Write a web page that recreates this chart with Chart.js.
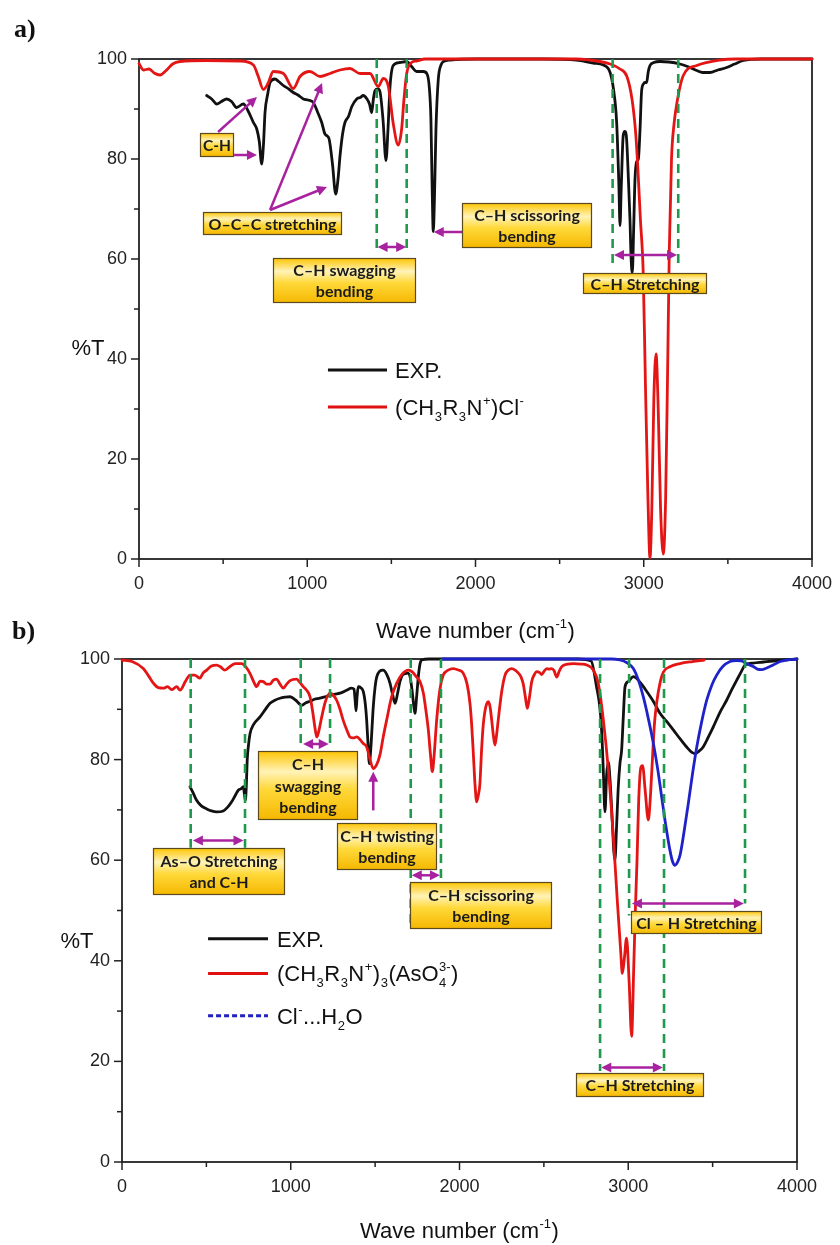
<!DOCTYPE html>
<html><head><meta charset="utf-8">
<script src="https://cdn.jsdelivr.net/npm/chart.js@4.4.1/dist/chart.umd.min.js"></script>
<style>
html,body{margin:0;padding:0;background:#fff;}
#wrap{position:relative;width:840px;height:1245px;overflow:hidden;background:#fff;}
canvas{position:absolute;left:0;}
#ca{top:0;} #cb{top:600px;}
</style></head><body>
<div id="wrap"><canvas id="ca" width="840" height="650"></canvas><canvas id="cb" width="840" height="645"></canvas></div>
<script>
// ---------- DATA (wavenumber cm-1, %T) ----------
const xTicks = [0, 1000, 2000, 3000, 4000];
const yTicks = [0, 20, 40, 60, 80, 100];

// Panel a: EXP.
const aExpWn = [402,432,462,490,521,550,580,620,650,680,700,715,729,740,749,765,779,808,830,858,890,917,945,977,1005,1036,1060,1086,1105,1115,1130,1150,1169,1183,1195,1210,1224,1245,1265,1294,1315,1333,1355,1370,1383,1393,1403,1420,1432,1450,1468,1480,1492,1511,1550,1591,1620,1650,1690,1712,1725,1735,1742,1749,1756,1765,1779,1795,1809,1850,2000,2400,2600,2700,2760,2800,2820,2839,2852,2859,2866,2878,2888,2898,2910,2918,2925,2932,2940,2948,2958,2968,2978,2987,2998,3008,3017,3027,3037,3060,3097,3150,3215,3260,3315,3350,3394,3440,3493,3540,3592,3700,4000];
const aExpT  = [92.7,92.0,91.0,91.5,92.0,91.5,90.3,91.0,89.5,87.3,86.0,83.5,79.0,83.0,89.3,93.0,95.3,96.0,95.5,94.7,94.0,93.3,92.8,92.0,91.8,91.3,89.5,87.3,85.0,84.7,84.0,79.0,73.0,76.0,80.7,85.0,87.3,88.5,90.5,92.0,92.3,92.7,92.0,91.0,89.3,92.0,93.7,94.0,93.5,88.0,79.7,86.0,94.5,98.7,99.3,99.5,98.5,97.5,97.5,97.0,94.5,88.0,75.0,65.5,72.0,86.0,96.0,98.8,99.5,99.8,100,100,99.8,99.2,98.8,97.3,94.0,87.3,75.0,66.7,74.0,84.7,85.5,84.0,75.0,68.0,60.0,57.3,66.0,76.0,79.5,80.0,86.0,93.5,95.0,95.3,95.3,97.5,98.7,99.3,99.5,99.4,99.0,98.5,97.7,97.3,97.3,97.8,98.3,99.0,99.7,100,100];

// Panel a: (CH3R3N+)Cl-
const aRefWn = [0,26,60,90,125,164,200,244,400,600,680,709,739,768,798,858,917,957,1016,1076,1135,1195,1254,1313,1373,1422,1452,1482,1511,1541,1561,1575,1591,1620,1650,1700,2600,2740,2800,2859,2900,2930,2950,2962,2980,2997,3010,3025,3037,3048,3060,3073,3086,3100,3116,3130,3142,3152,3165,3180,3196,3235,3315,3453,3550,4000];
const aRefT  = [99.1,97.8,98.0,97.2,96.8,97.8,99.0,99.5,99.7,99.6,98.8,96.5,93.9,95.2,97.5,97.1,94.1,96.5,97.5,96.5,97.1,97.8,98.1,97.1,97.1,94.5,96.1,94.5,87.1,82.8,86.0,92.0,97.1,99.3,99.6,100,100,99.5,99.0,98.0,96.5,92.0,86.0,80.0,68.0,57.0,35.0,12.0,0.2,10.0,32.0,41.0,30.0,10.0,1.0,12.0,38.0,62.0,80.0,87.0,91.0,96.7,98.7,99.8,100,100];

// Panel b: EXP.
const bExpWn = [403,420,442,470,502,530,561,600,625,650,670,689,705,719,726,731,737,742,750,759,780,818,850,877,906,936,966,996,1030,1065,1090,1114,1140,1173,1205,1233,1262,1292,1331,1360,1375,1381,1387,1393,1400,1415,1430,1442,1450,1458,1466,1474,1482,1489,1500,1509,1528,1548,1568,1588,1603,1618,1632,1647,1662,1677,1692,1707,1718,1728,1736,1746,1756,1766,1776,1820,2700,2780,2812,2833,2845,2852,2862,2872,2882,2892,2905,2914,2921,2930,2940,2951,2961,2970,2981,3000,3030,3060,3100,3150,3188,3230,3267,3310,3346,3375,3396,3420,3444,3475,3504,3545,3583,3615,3643,3670,3692,3740,3800,3860,4000];
const bExpT  = [74.6,73.5,71.9,70.8,70.2,69.8,69.6,69.8,70.5,71.6,72.8,73.9,74.2,74.6,73.0,71.9,75.0,79.9,83.0,85.2,87.0,88.5,90.0,91.2,91.8,92.2,92.4,92.5,91.8,90.8,91.3,91.6,92.0,92.2,92.5,92.8,93.0,93.2,93.8,94.2,94.0,92.0,89.7,92.5,94.5,94.3,93.5,91.0,87.8,83.0,79.2,82.0,86.5,90.5,94.5,96.4,97.6,97.8,97.0,95.2,93.0,91.2,93.0,95.5,96.8,97.1,97.2,96.5,94.0,91.0,89.2,92.5,96.5,99.0,99.8,100,100,99.6,94.5,90.0,84.0,78.0,69.6,77.0,79.5,76.0,68.0,62.0,60.0,66.0,74.0,79.3,82.0,88.0,94.5,95.5,96.5,95.8,94.0,91.5,89.2,87.5,85.9,84.0,82.5,81.5,81.2,81.7,82.5,84.5,86.5,89.5,91.8,94.0,95.8,97.5,98.8,99.2,99.4,99.6,100];

// Panel b: (CH3R3N+)3(AsO4 3-)
const bAsWn = [0,60,126,160,186,215,245,270,294,324,344,375,403,430,462,480,502,530,561,585,610,640,670,709,735,759,780,798,818,837,857,877,897,917,936,956,976,996,1035,1055,1074,1094,1114,1130,1145,1154,1165,1183,1205,1233,1252,1272,1292,1311,1331,1351,1371,1391,1410,1430,1450,1470,1489,1509,1529,1548,1568,1598,1628,1660,1697,1722,1746,1766,1786,1800,1815,1828,1839,1850,1865,1884,1904,1933,1963,1993,2022,2045,2062,2072,2082,2092,2102,2112,2121,2131,2141,2156,2171,2181,2191,2200,2210,2220,2230,2250,2270,2290,2309,2330,2349,2365,2378,2390,2402,2415,2428,2445,2457,2475,2487,2500,2517,2530,2546,2560,2576,2590,2606,2640,2675,2720,2754,2793,2822,2852,2882,2911,2935,2955,2965,2977,2990,3005,3020,3032,3042,3052,3062,3075,3085,3100,3119,3130,3140,3155,3168,3190,3208,3250,3307,3380,3450];
const bAsT  = [99.8,99.5,98.1,96.5,95.2,94.3,94.2,94.5,93.9,94.5,93.8,95.5,96.8,96.8,96.2,97.2,97.8,98.6,98.8,98.4,97.8,98.5,99.1,99.1,98.4,97.1,95.5,94.5,95.6,95.5,95.0,95.0,95.8,96.0,95.0,94.2,95.0,95.7,96.0,95.3,94.5,93.8,92.5,89.5,86.0,84.5,85.5,88.4,91.5,93.2,92.8,91.8,90.0,87.8,86.0,84.5,84.3,84.5,84.0,83.2,82.5,80.0,78.2,79.0,81.0,84.5,87.8,92.5,95.2,97.0,97.8,97.4,96.4,95.5,93.2,90.0,86.0,81.0,77.6,81.0,88.0,94.0,96.8,97.8,98.1,97.8,97.2,95.0,91.2,87.0,81.2,75.0,71.6,73.0,75.2,82.0,87.0,90.5,91.5,90.5,87.8,85.0,82.9,85.0,88.0,93.5,96.8,97.8,98.1,97.8,97.2,96.4,95.0,92.5,90.2,92.5,95.5,97.0,97.5,97.3,96.9,97.5,98.1,98.0,98.1,97.7,96.4,97.5,98.5,99.0,99.1,99.0,98.8,97.8,95.2,88.0,78.0,65.0,52.0,42.0,37.5,40.5,44.5,36.0,25.0,38.0,50.0,60.0,72.0,78.5,78.8,74.0,68.0,72.0,78.0,87.0,91.2,95.5,97.4,98.5,99.1,99.5,99.8];

// Panel b: Cl-...H2O
const bClWn = [1900,2900,2951,2990,3030,3060,3089,3120,3149,3175,3198,3222,3247,3262,3277,3292,3307,3330,3356,3380,3406,3435,3465,3495,3524,3560,3603,3640,3672,3705,3741,3765,3790,3820,3859,3900,3939,4000];
const bClT  = [100,100,99.8,99.3,98.1,95.8,92.5,88.0,83.2,78.0,72.6,67.0,62.0,59.8,59.0,59.6,61.0,65.5,71.3,77.0,82.5,87.5,91.8,94.8,96.8,98.5,99.5,99.7,99.6,99.0,98.5,98.0,97.9,98.2,98.8,99.5,99.8,100];

// ---------- STYLE / LAYOUT ----------
const FONT = '"Liberation Sans", Arial, sans-serif';
const BOXFONT = 'Lato, "Open Sans", sans-serif';
const PURPLE = '#a8229f';
const GREEN = '#1f9a4c';

function zip(xs, ys){ return xs.map((x,i)=>({x:x, y:ys[i]})); }

const annA = {
  vlines: [[1413,100,61.5],[1591,100,61.5],[2815,100,58.5],[3205,100,58.5]],
  arrows: [
    {from:[470,85.4], to:[701,92.4]},
    {from:[565,80.8], to:[701,80.8]},
    {from:[779,69.8], to:[1088,95.2]},
    {from:[779,69.8], to:[1117,74.4]},
    {from:[1920,65.4], to:[1752,65.4]},
    {from:[1418,62.4], to:[1588,62.4], both:true},
    {from:[2823,60.8], to:[3198,60.8], both:true}
  ],
  boxes: [
    {x1:363, x2:565, t1:85.2, t2:80.4, lines:['C-H']},
    {x1:380, x2:1207, t1:69.4, t2:64.8, lines:['O\u2013C\u2013C stretching']},
    {x1:796, x2:1646, t1:60.2, t2:51.2, lines:['C\u2013H swagging','bending']},
    {x1:1920, x2:2692, t1:71.2, t2:62.2, lines:['C\u2013H scissoring','bending']},
    {x1:2639, x2:3376, t1:57.2, t2:53.0, lines:['C\u2013H Stretching']}
  ],
  legend: {x1:1123, x2:1474, tx:1522, rows:[
    {t:37.8, color:'#111', dash:null, segs:[['EXP.','n']]},
    {t:30.4, color:'#e01010', dash:null, segs:[['(CH','n'],['3','b'],['R','n'],['3','b'],['N','n'],['+','p'],[')Cl','n'],['-','p']]}
  ]},
  texts: {panel:'a)', panelX:14, panelY:30, yTitleX:88, yTitleY:349, xTitleY:630}
};

const annB = {
  vlines: [[407,100,62.5],[729,100,62.5],[1059,100,82.3],[1233,100,82.3],[1711,100,47.4],[1890,100,47.4],[2833,100,18.1],[3212,100,18.1],[3005,100,49],[3692,100,51.4]],
  arrows: [
    {from:[420,63.9], to:[720,63.9], both:true},
    {from:[1073,83.1], to:[1225,83.1], both:true},
    {from:[1489,69.9], to:[1489,77.6]},
    {from:[1717,57.0], to:[1884,57.0], both:true},
    {from:[3022,51.4], to:[3685,51.4], both:true},
    {from:[2840,18.8], to:[3205,18.8], both:true}
  ],
  boxes: [
    {x1:184, x2:966, t1:62.4, t2:53.0, lines:['As\u2013O Stretching','and C-H']},
    {x1:808, x2:1400, t1:81.7, t2:67.9, lines:['C\u2013H','swagging','bending']},
    {x1:1272, x2:1865, t1:67.3, t2:58.0, lines:['C\u2013H twisting','bending']},
    {x1:1707, x2:2546, t1:55.6, t2:46.4, lines:['C\u2013H scissoring','bending']},
    {x1:3016, x2:3794, t1:50.0, t2:45.4, lines:['Cl \u2013 H Stretching']},
    {x1:2689, x2:3449, t1:17.7, t2:13.0, lines:['C\u2013H Stretching']}
  ],
  legend: {x1:510, x2:865, tx:918, rows:[
    {t:44.4, color:'#111', dash:null, segs:[['EXP.','n']]},
    {t:37.5, color:'#e01010', dash:null, segs:[['(CH','n'],['3','b'],['R','n'],['3','b'],['N','n'],['+','p'],[')','n'],['3','b'],['(AsO','n'],['3-','s','4'],[')','n']]},
    {t:29.1, color:'#2020c0', dash:[5,3], segs:[['Cl','n'],['-','p'],['...H','n'],['2','b'],['O','n']]}
  ]},
  texts: {panel:'b)', panelX:12, panelY:32, yTitleX:77, yTitleY:342, xTitleY:630}
};

// ---------- DRAW HELPERS ----------
function richWidth(ctx, segs, size){
  let w = 0;
  segs.forEach(s=>{
    if (s[1]==='n'){ ctx.font = size+'px '+FONT; w += ctx.measureText(s[0]).width; }
    else if (s[1]==='s'){ ctx.font = Math.round(size*0.6)+'px '+FONT; w += Math.max(ctx.measureText(s[0]).width, ctx.measureText(s[2]).width)+1; }
    else { ctx.font = Math.round(size*0.6)+'px '+FONT; w += ctx.measureText(s[0]).width+1; }
  });
  return w;
}
function drawRich(ctx, segs, x, y, size, align, color){
  const w = richWidth(ctx, segs, size);
  let cx = align==='center' ? x - w/2 : (align==='right' ? x - w : x);
  const base = y + size*0.36;
  ctx.fillStyle = color || '#111';
  ctx.textAlign = 'left'; ctx.textBaseline = 'alphabetic';
  segs.forEach(s=>{
    if (s[1]==='n'){ ctx.font = size+'px '+FONT; ctx.fillText(s[0], cx, base); cx += ctx.measureText(s[0]).width; }
    else if (s[1]==='b'){ ctx.font = Math.round(size*0.6)+'px '+FONT; ctx.fillText(s[0], cx+0.5, base+size*0.28); cx += ctx.measureText(s[0]).width+1; }
    else if (s[1]==='p'){ ctx.font = Math.round(size*0.6)+'px '+FONT; ctx.fillText(s[0], cx+0.5, base-size*0.45); cx += ctx.measureText(s[0]).width+1; }
    else { ctx.font = Math.round(size*0.6)+'px '+FONT;
      ctx.fillText(s[0], cx+0.5, base-size*0.45); ctx.fillText(s[2], cx+0.5, base+size*0.28);
      cx += Math.max(ctx.measureText(s[0]).width, ctx.measureText(s[2]).width)+1; }
  });
}
function arrowHead(ctx, x1, y1, x2, y2){
  const a = Math.atan2(y2-y1, x2-x1), L = 10, W = 5;
  ctx.beginPath();
  ctx.moveTo(x2, y2);
  ctx.lineTo(x2 - L*Math.cos(a) + W*Math.sin(a), y2 - L*Math.sin(a) - W*Math.cos(a));
  ctx.lineTo(x2 - L*Math.cos(a) - W*Math.sin(a), y2 - L*Math.sin(a) + W*Math.cos(a));
  ctx.closePath(); ctx.fill();
}
function drawArrow(ctx, x1, y1, x2, y2, both){
  const a = Math.atan2(y2-y1, x2-x1);
  ctx.strokeStyle = PURPLE; ctx.fillStyle = PURPLE; ctx.lineWidth = 2.5;
  ctx.beginPath();
  ctx.moveTo(x1 + (both?8*Math.cos(a):0), y1 + (both?8*Math.sin(a):0));
  ctx.lineTo(x2 - 8*Math.cos(a), y2 - 8*Math.sin(a));
  ctx.stroke();
  arrowHead(ctx, x1, y1, x2, y2);
  if (both) arrowHead(ctx, x2, y2, x1, y1);
}
function drawBox(ctx, x1, y1, x2, y2, lines){
  const g = ctx.createLinearGradient(0, y1, 0, y2);
  g.addColorStop(0, '#ffc400'); g.addColorStop(0.3, '#fff3b8'); g.addColorStop(0.55, '#ffd93a'); g.addColorStop(1, '#f5b700');
  ctx.fillStyle = g; ctx.fillRect(x1, y1, x2-x1, y2-y1);
  ctx.strokeStyle = '#5b4a1e'; ctx.lineWidth = 1.2; ctx.setLineDash([]);
  ctx.strokeRect(x1+0.5, y1+0.5, x2-x1-1, y2-y1-1);
  const lh = 21.5;
  let size = 16;
  ctx.font = 'bold '+size+'px '+BOXFONT;
  let maxW = Math.max(...lines.map(l=>ctx.measureText(l).width));
  if (maxW > (x2-x1-6)) { size = Math.floor(size*(x2-x1-6)/maxW*10)/10; }
  ctx.font = 'bold '+size+'px '+BOXFONT;
  ctx.fillStyle = '#1b1b1b'; ctx.textAlign = 'center'; ctx.textBaseline = 'middle';
  const cy = (y1+y2)/2, cx = (x1+x2)/2;
  lines.forEach((l,i)=>{ ctx.fillText(l, cx, cy + (i-(lines.length-1)/2)*lh + 1); });
}

function makePlugin(ann){
  return {
    id: 'spectrumDecor',
    beforeDatasetsDraw(chart){
      const ctx = chart.ctx, ca = chart.chartArea;
      const xs = chart.scales.x, ys = chart.scales.y;
      ctx.save();
      ctx.strokeStyle = '#222'; ctx.lineWidth = 1.8;
      ctx.strokeRect(ca.left, ca.top, ca.right-ca.left, ca.bottom-ca.top);
      ctx.lineWidth = 1.5;
      for (let v = 0; v <= 4000; v += 500){
        const px = xs.getPixelForValue(v), len = (v % 1000 === 0) ? 8 : 5;
        ctx.beginPath(); ctx.moveTo(px, ca.bottom); ctx.lineTo(px, ca.bottom+len); ctx.stroke();
      }
      for (let v = 0; v <= 100; v += 10){
        const py = ys.getPixelForValue(v), len = (v % 20 === 0) ? 8 : 5;
        ctx.beginPath(); ctx.moveTo(ca.left, py); ctx.lineTo(ca.left-len, py); ctx.stroke();
      }
      ctx.restore();
    },
    afterDatasetsDraw(chart){
      const ctx = chart.ctx, ca = chart.chartArea;
      const xs = chart.scales.x, ys = chart.scales.y;
      const X = v => xs.getPixelForValue(v), Y = v => ys.getPixelForValue(v);
      ctx.save();
      ctx.strokeStyle = GREEN; ctx.lineWidth = 2.6; ctx.setLineDash([9,6]);
      ann.vlines.forEach(l=>{ ctx.beginPath(); ctx.moveTo(X(l[0]), Y(l[1])); ctx.lineTo(X(l[0]), Y(l[2])); ctx.stroke(); });
      ctx.setLineDash([]);
      ann.arrows.forEach(a=> drawArrow(ctx, X(a.from[0]), Y(a.from[1]), X(a.to[0]), Y(a.to[1]), a.both));
      ann.boxes.forEach(b=> drawBox(ctx, Math.round(X(b.x1)), Math.round(Y(b.t1)), Math.round(X(b.x2)), Math.round(Y(b.t2)), b.lines));
      const lg = ann.legend;
      lg.rows.forEach(r=>{
        ctx.strokeStyle = r.color; ctx.lineWidth = 3; ctx.setLineDash(r.dash || []);
        ctx.beginPath(); ctx.moveTo(X(lg.x1), Y(r.t)); ctx.lineTo(X(lg.x2), Y(r.t)); ctx.stroke();
        ctx.setLineDash([]);
        drawRich(ctx, r.segs, X(lg.tx), Y(r.t), 22, 'left', '#111');
      });
      const t = ann.texts;
      ctx.font = 'bold 26px "Liberation Serif", "Times New Roman", serif';
      ctx.fillStyle = '#111'; ctx.textAlign = 'left'; ctx.textBaseline = 'middle';
      ctx.fillText(t.panel, t.panelX, t.panelY);
      ctx.font = '22px '+FONT; ctx.textAlign = 'center';
      ctx.fillText('%T', t.yTitleX, t.yTitleY);
      drawRich(ctx, [['Wave number (cm','n'],['-1','p'],[')','n']], (ca.left+ca.right)/2, t.xTitleY, 22, 'center', '#111');
      ctx.restore();
    }
  };
}

function makeChart(id, datasets, ann, pad, yWidth){
  const ctx = document.getElementById(id).getContext('2d');
  return new Chart(ctx, {
    type: 'line',
    data: { datasets: datasets },
    options: {
      responsive: false, animation: false, devicePixelRatio: 1,
      layout: { padding: pad },
      plugins: { legend: {display:false}, tooltip: {enabled:false}, title: {display:false} },
      elements: { point: {radius:0}, line: {borderWidth:2.8, tension:0.4, cubicInterpolationMode:'monotone', borderJoinStyle:'round', borderCapStyle:'round'} },
      scales: {
        x: { type:'linear', min:0, max:4000,
             afterBuildTicks: s => { s.ticks = xTicks.map(v=>({value:v})); },
             afterFit: s => { s.height = 80; },
             grid: {display:false, drawTicks:true, tickLength:8}, border: {display:false},
             ticks: {color:'#222', font:{family:FONT, size:18}, padding:6, maxRotation:0, autoSkip:false, callback: v => String(v)} },
        y: { type:'linear', min:0, max:100,
             afterBuildTicks: s => { s.ticks = yTicks.map(v=>({value:v})); },
             afterFit: s => { s.width = yWidth; },
             grid: {display:false, drawTicks:true, tickLength:8}, border: {display:false},
             ticks: {color:'#222', font:{family:FONT, size:18}, padding:4, callback: v => String(v)} }
      }
    },
    plugins: [makePlugin(ann)]
  });
}

makeChart('ca', [
  {label:'(CH3R3N+)Cl-', data: zip(aRefWn, aRefT), borderColor:'#e41515', clip:false},
  {label:'EXP.', data: zip(aExpWn, aExpT), borderColor:'#111111', clip:false}
], annA, {left:0, top:59, right:28, bottom:11}, 139);

makeChart('cb', [
  {label:'Cl-...H2O', data: zip(bClWn, bClT), borderColor:'#1e22c8', clip:false},
  {label:'(CH3R3N+)3(AsO4 3-)', data: zip(bAsWn, bAsT), borderColor:'#e41515', clip:false},
  {label:'EXP.', data: zip(bExpWn, bExpT), borderColor:'#111111', clip:false}
], annB, {left:0, top:59, right:43, bottom:3}, 122);
</script></body></html>
